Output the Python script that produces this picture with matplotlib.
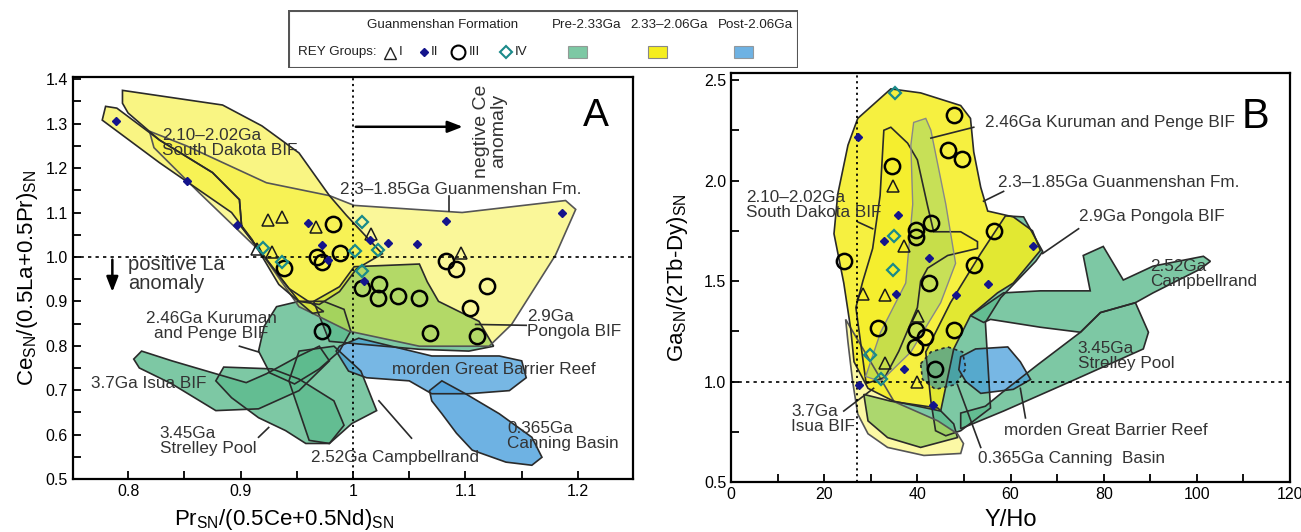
import matplotlib.pyplot as plt
from matplotlib.patches import Polygon, Rectangle
from matplotlib.ticker import MultipleLocator

plt.rcParams['font.family'] = ['Liberation Sans', 'DejaVu Sans']
plt.rcParams['mathtext.fontset'] = 'custom'
plt.rcParams['mathtext.rm'] = 'Liberation Sans'
plt.rcParams['mathtext.it'] = 'Liberation Sans:italic'

GREEN = '#5dbb8e'
YELLOW = '#f5ee1e'
BLUE = '#4a9fdc'
NAVY = '#14148c'
TEAL = '#1a8a8a'
EDGE = '#2a2a2a'
TXT = '#333333'

# -----------------------
# PANEL A  (Ce/Ce* vs Pr/Pr*)
# -----------------------

a_isua = [(0.805, 0.770), (0.812, 0.788), (0.839, 0.766), (0.878, 0.737), (0.905, 0.717),
          (0.923, 0.737), (0.952, 0.777), (0.970, 0.799), (0.979, 0.766), (0.952, 0.699),
          (0.916, 0.658), (0.878, 0.654), (0.839, 0.714), (0.810, 0.750)]
a_strelley = [(0.878, 0.721), (0.885, 0.752), (0.928, 0.748), (0.952, 0.725), (0.983, 0.676),
              (0.992, 0.621), (0.979, 0.580), (0.958, 0.580), (0.940, 0.609), (0.916, 0.638),
              (0.892, 0.683)]
a_campbellrand = [(0.952, 0.788), (0.983, 0.799), (1.007, 0.743), (1.021, 0.654), (0.999, 0.625),
                  (0.979, 0.580), (0.961, 0.587), (0.952, 0.654), (0.943, 0.721)]
a_kuruman = [(0.932, 0.888), (0.952, 0.900), (0.974, 0.900), (0.992, 0.882), (0.998, 0.833),
             (0.988, 0.788), (0.970, 0.748), (0.948, 0.714), (0.926, 0.739), (0.916, 0.788),
             (0.921, 0.844)]
a_pongola = [(0.965, 0.900), (0.988, 0.933), (1.001, 0.978), (1.059, 0.984), (1.066, 0.944),
             (1.076, 0.900), (1.112, 0.855), (1.125, 0.799), (1.103, 0.788), (1.059, 0.792),
             (1.005, 0.804), (0.979, 0.810)]
a_guanmenshan = [(0.819, 1.283), (0.852, 1.250), (0.923, 1.167), (0.979, 1.138), (1.001, 1.116),
                 (1.097, 1.100), (1.189, 1.127), (1.198, 1.107), (1.180, 1.004), (1.141, 0.848),
                 (1.121, 0.799), (1.059, 0.799), (0.996, 0.833), (0.952, 0.888), (0.918, 1.011),
                 (0.863, 1.145), (0.823, 1.246)]
a_sd_lower = [(0.777, 1.308), (0.780, 1.339), (0.790, 1.335), (0.828, 1.263), (0.875, 1.190),
              (0.899, 1.129), (0.901, 1.067), (0.943, 0.929), (0.974, 0.877), (0.964, 0.873),
              (0.934, 0.938), (0.910, 1.040), (0.892, 1.100), (0.828, 1.212)]
a_sd_upper = [(0.795, 1.375), (0.884, 1.342), (0.919, 1.295), (0.952, 1.234), (0.979, 1.138),
              (0.994, 1.094), (1.026, 1.007), (1.003, 0.973), (0.988, 0.922), (0.970, 0.893),
              (0.952, 0.900), (0.943, 0.929), (0.901, 1.067), (0.899, 1.129), (0.875, 1.190),
              (0.828, 1.263), (0.800, 1.324), (0.795, 1.346)]
a_gbr = [(0.985, 0.788), (0.988, 0.799), (1.005, 0.817), (1.070, 0.777), (1.130, 0.777),
         (1.150, 0.766), (1.154, 0.728), (1.139, 0.699), (1.103, 0.692), (1.070, 0.692),
         (1.050, 0.721), (1.012, 0.728), (0.996, 0.743)]
a_canning = [(1.068, 0.699), (1.079, 0.721), (1.100, 0.692), (1.130, 0.647), (1.159, 0.594),
             (1.168, 0.549), (1.159, 0.531), (1.136, 0.538), (1.106, 0.565), (1.092, 0.603),
             (1.079, 0.647), (1.070, 0.676)]

# Guanmenshan samples by REY group
a_g1_x = [0.924, 0.937, 0.967, 0.915, 0.928, 1.016, 1.096]
a_g1_y = [1.083, 1.089, 1.067, 1.018, 1.011, 1.051, 1.009]
a_g2_x = [0.789, 0.852, 0.897, 0.960, 0.972, 0.978, 1.015, 1.031, 1.057, 1.083, 1.010, 1.186]
a_g2_y = [1.306, 1.172, 1.071, 1.076, 1.027, 0.993, 1.038, 1.031, 1.029, 1.080, 0.946, 1.100]
a_g3_x = [0.939, 0.968, 0.972, 0.988, 0.982, 1.083, 1.092, 1.119, 1.008, 1.023, 1.022,
          1.040, 1.059, 1.104, 1.068, 1.110, 0.972]
a_g3_y = [0.975, 1.000, 0.989, 1.009, 1.074, 0.991, 0.973, 0.935, 0.929, 0.938, 0.908,
          0.911, 0.908, 0.886, 0.828, 0.821, 0.833]
a_g4_x = [0.920, 0.937, 1.008, 1.002, 1.022, 1.008]
a_g4_y = [1.020, 0.989, 1.078, 1.013, 1.016, 0.969]

# -----------------------
# PANEL B  (Ga/Ga* vs Y/Ho)
# -----------------------

b_isua = [(28.5, 0.936), (34.3, 0.902), (44.4, 0.868), (47.8, 0.789), (48.6, 0.721),
          (40.7, 0.672), (33.6, 0.721), (29.4, 0.804)]
b_pongola = [(58.9, 1.824), (62.8, 1.819), (66.9, 1.647), (65.4, 1.598), (57.9, 1.417),
             (54.6, 1.294), (55.7, 0.868), (49.3, 0.755), (46.1, 0.730), (43.9, 0.755),
             (42.9, 0.902), (41.8, 1.147), (47.1, 1.392), (53.6, 1.637)]
b_campbellrand = [(51.4, 1.328), (58.5, 1.441), (66.4, 1.451), (77.1, 1.451), (75.6, 1.627),
                  (79.9, 1.672), (84.2, 1.505), (90.6, 1.574), (101.4, 1.623), (102.9, 1.598),
                  (100.7, 1.559), (90.6, 1.441), (86.8, 1.392), (79.3, 1.343), (75.0, 1.245),
                  (66.4, 1.270), (55.7, 1.309), (54.2, 1.294)]
b_strelley = [(49.3, 0.765), (58.5, 0.853), (72.9, 1.000), (88.5, 1.162), (89.6, 1.245),
              (86.8, 1.392), (79.3, 1.343), (75.0, 1.245), (65.8, 1.083), (58.5, 0.951),
              (54.6, 0.877), (49.3, 0.843)]
b_sd_outer = [(24.6, 1.309), (25.1, 1.196), (26.1, 1.000), (27.2, 0.838), (29.4, 0.740),
              (33.6, 0.672), (41.4, 0.632), (49.3, 0.642), (49.9, 0.691), (48.6, 0.740),
              (44.4, 0.804), (35.0, 0.900)]
b_guanmenshan = [(27.2, 2.309), (34.3, 2.456), (40.7, 2.436), (49.3, 2.373), (51.4, 2.309),
                 (52.1, 2.142), (53.6, 1.966), (55.1, 1.848), (60.6, 1.819), (64.7, 1.750),
                 (66.4, 1.652), (60.6, 1.490), (57.2, 1.441), (51.4, 1.328), (47.8, 1.162),
                 (45.0, 0.853), (34.9, 0.902), (29.4, 0.966), (26.4, 1.098), (25.7, 1.260),
                 (24.2, 1.490), (22.1, 1.735), (22.9, 1.931), (25.1, 2.176)]
b_sd_inner = [(32.8, 2.250), (34.3, 2.265), (37.9, 2.186), (40.0, 2.103), (42.2, 1.873),
              (43.5, 1.745), (49.3, 1.745), (52.9, 1.696), (52.9, 1.662), (46.5, 1.627),
              (42.2, 1.564), (40.7, 1.500), (40.0, 1.368), (36.0, 1.150), (33.0, 1.020),
              (29.0, 0.990), (26.8, 1.368), (28.3, 1.500), (30.4, 1.662), (32.0, 1.926)]
b_kuruman = [(39.2, 2.289), (41.8, 2.309), (42.9, 2.250), (46.1, 1.882), (48.2, 1.588),
             (45.0, 1.392), (38.6, 1.147), (32.1, 1.000), (28.9, 1.025), (32.1, 1.245),
             (37.5, 1.490), (39.0, 1.882), (38.6, 2.176)]
b_canning = [(40.7, 1.088), (42.9, 1.147), (46.5, 1.172), (49.7, 1.147), (50.4, 1.064),
             (48.2, 0.985), (43.9, 0.961), (41.1, 1.010)]
b_gbr = [(49.3, 1.123), (52.5, 1.162), (59.4, 1.172), (62.1, 1.098), (64.3, 1.010),
         (60.6, 0.961), (53.6, 0.941), (50.4, 1.000), (48.9, 1.059)]

b_g1_x = [34.7, 37.1, 28.3, 33.0, 40.1, 33.0, 39.9]
b_g1_y = [1.975, 1.672, 1.436, 1.431, 1.324, 1.093, 1.000]
b_g2_x = [27.2, 35.8, 32.8, 42.4, 35.4, 48.2, 55.1, 64.9, 37.1, 27.4, 43.3]
b_g2_y = [2.216, 1.828, 1.701, 1.613, 1.436, 1.431, 1.485, 1.676, 1.064, 0.985, 0.882]
b_g3_x = [47.8, 46.5, 49.5, 34.5, 42.9, 39.6, 39.6, 56.4, 52.1, 42.4, 24.2, 31.5, 39.6,
          41.6, 39.4, 47.8, 43.7]
b_g3_y = [2.324, 2.152, 2.108, 2.074, 1.789, 1.755, 1.721, 1.750, 1.578, 1.490, 1.598,
          1.265, 1.255, 1.221, 1.172, 1.255, 1.064]
b_g4_x = [35.1, 34.9, 34.7, 29.8, 32.1]
b_g4_y = [2.436, 1.725, 1.554, 1.132, 1.010]


def region(ax, verts, color, alpha, ls='-', lw=1.2, ec=EDGE):
    ax.add_patch(Polygon(verts, closed=True, facecolor=color, alpha=alpha,
                         edgecolor='none', zorder=1))
    ax.add_patch(Polygon(verts, closed=True, fill=False, edgecolor=ec,
                         linewidth=lw, linestyle=ls, zorder=2))


def samples(ax, g1x, g1y, g2x, g2y, g3x, g3y, g4x, g4y):
    ax.plot(g3x, g3y, 'o', ms=11, mfc='none', mec='black', mew=1.8, ls='none', zorder=5)
    ax.plot(g1x, g1y, '^', ms=9, mfc='none', mec='#1a1a1a', mew=1.1, ls='none', zorder=5)
    ax.plot(g4x, g4y, 'D', ms=6.5, mfc='none', mec=TEAL, mew=1.6, ls='none', zorder=6)
    ax.plot(g2x, g2y, 'D', ms=4.5, mfc=NAVY, mec=NAVY, ls='none', zorder=6)


def style_axes(ax):
    for sp in ax.spines.values():
        sp.set_linewidth(1.6)
    ax.tick_params(which='both', direction='in', top=False, right=False,
                   labelsize=11.5, width=1.3)
    ax.tick_params(which='major', length=6)
    ax.tick_params(which='minor', length=6)


def sn_label(name, rest):
    return name + r'$_{\mathregular{SN}}$' + rest + r'$_{\mathregular{SN}}$'


fig = plt.figure(figsize=(13.01, 5.32), dpi=100)
axA = fig.add_axes([0.0561, 0.0996, 0.4305, 0.7556])
axB = fig.add_axes([0.5619, 0.0940, 0.4297, 0.7688])

lab = dict(fontsize=12.3, color=TXT, linespacing=1.0)

# ---- panel A ----
for verts in [a_isua, a_strelley, a_campbellrand, a_kuruman, a_pongola]:
    region(axA, verts, GREEN, 0.8)
region(axA, a_guanmenshan, YELLOW, 0.45, ec='#555555')
region(axA, a_sd_lower, YELLOW, 0.55)
region(axA, a_sd_upper, YELLOW, 0.55)
region(axA, a_gbr, BLUE, 0.75)
region(axA, a_canning, BLUE, 0.8)
samples(axA, a_g1_x, a_g1_y, a_g2_x, a_g2_y, a_g3_x, a_g3_y, a_g4_x, a_g4_y)

axA.axvline(1.0, color='black', ls=(0, (1.2, 2)), lw=1.3, zorder=3)
axA.axhline(1.0, color='black', ls=(0, (2, 2.5)), lw=1.2, zorder=3)
axA.set_xlim(0.751, 1.249)
axA.set_ylim(0.5, 1.405)
axA.xaxis.set_minor_locator(MultipleLocator(0.05))
axA.yaxis.set_major_locator(MultipleLocator(0.1))
axA.yaxis.set_minor_locator(MultipleLocator(0.05))
axA.set_xticks([0.8, 0.9, 1.0, 1.1, 1.2])
axA.set_xticklabels(['0.8', '0.9', '1', '1.1', '1.2'])
axA.set_xlabel(sn_label('Pr', '/(0.5Ce+0.5Nd)'), fontsize=16)
axA.xaxis.set_label_coords(0.377, -0.07)
axA.set_ylabel(sn_label('Ce', '/(0.5La+0.5Pr)'), fontsize=16, labelpad=4)
style_axes(axA)

axA.annotate('', xy=(1.100, 1.293), xytext=(1.0, 1.293),
             arrowprops=dict(arrowstyle='-|>,head_width=0.35,head_length=0.9', color='black', lw=1.8))
axA.annotate('', xy=(0.786, 0.915), xytext=(0.786, 1.0),
             arrowprops=dict(arrowstyle='-|>,head_width=0.35,head_length=0.9', color='black', lw=1.8))
axA.text(1.122, 1.283, 'negtive Ce\nanomaly', rotation=90, ha='center', va='center',
         fontsize=14, color=TXT, linespacing=1.0)
axA.text(0.800, 0.962, 'positive La\nanomaly', ha='left', va='center', fontsize=14.5,
         color=TXT, linespacing=1.0)
axA.text(1.204, 1.318, 'A', fontsize=28, ha='left', va='center')

axA.text(0.830, 1.256, '2.10\u20132.02Ga\nSouth Dakota BIF', ha='left', va='center', **lab)
axA.text(0.988, 1.152, '2.3\u20131.85Ga Guanmenshan Fm.', ha='left', va='center', **lab)
axA.plot([1.085, 1.085], [1.138, 1.103], color=EDGE, lw=1.2)
axA.text(0.874, 0.844, '2.46Ga Kuruman\nand Penge BIF', ha='center', va='center', **lab)
axA.plot([0.899, 0.916], [0.799, 0.786], color=EDGE, lw=1.2)
axA.text(0.767, 0.714, '3.7Ga Isua BIF', ha='left', va='center', **lab)
axA.text(0.828, 0.585, '3.45Ga\nStrelley Pool', ha='left', va='center', **lab)
axA.plot([0.916, 0.925], [0.594, 0.616], color=EDGE, lw=1.2)
axA.text(0.963, 0.549, '2.52Ga Campbellrand', ha='left', va='center', **lab)
axA.plot([1.023, 1.052], [0.676, 0.592], color=EDGE, lw=1.2)
axA.text(1.155, 0.850, '2.9Ga\nPongola BIF', ha='left', va='center', **lab)
axA.plot([1.109, 1.154], [0.848, 0.846], color=EDGE, lw=1.2)
axA.text(1.035, 0.746, 'morden Great Barrier Reef', ha='left', va='center', **lab)
axA.text(1.137, 0.596, '0.365Ga\nCanning Basin', ha='left', va='center', **lab)

# ---- panel B ----
for verts in [b_isua, b_pongola, b_campbellrand, b_strelley]:
    region(axB, verts, GREEN, 0.8)
region(axB, b_sd_outer, YELLOW, 0.4, ec='#555555')
region(axB, b_guanmenshan, YELLOW, 0.85)
region(axB, b_sd_inner, YELLOW, 0.5)
region(axB, b_kuruman, GREEN, 0.3, ec='#888888', lw=1.0)
region(axB, b_canning, '#2f8fa6', 0.65, ls=(0, (2, 2)))
region(axB, b_gbr, BLUE, 0.75)
samples(axB, b_g1_x, b_g1_y, b_g2_x, b_g2_y, b_g3_x, b_g3_y, b_g4_x, b_g4_y)

axB.axvline(27, color='black', ls=(0, (1.2, 2)), lw=1.3, zorder=3)
axB.axhline(1.0, color='black', ls=(0, (2, 2.5)), lw=1.2, zorder=3)
axB.set_xlim(0, 120)
axB.set_ylim(0.5, 2.535)
axB.xaxis.set_major_locator(MultipleLocator(20))
axB.xaxis.set_minor_locator(MultipleLocator(10))
axB.yaxis.set_major_locator(MultipleLocator(0.5))
axB.yaxis.set_minor_locator(MultipleLocator(0.25))
axB.set_xlabel('Y/Ho', fontsize=17, labelpad=5)
axB.set_ylabel(sn_label('Ga', '/(2Tb-Dy)'), fontsize=16, labelpad=10)
style_axes(axB)
axB.text(109.5, 2.314, 'B', fontsize=30, ha='left', va='center')

axB.text(54.6, 2.289, '2.46Ga Kuruman and Penge BIF', ha='left', va='center', **lab)
axB.plot([42.9, 52.1], [2.211, 2.265], color=EDGE, lw=1.2)
axB.text(57.4, 1.990, '2.3\u20131.85Ga Guanmenshan Fm.', ha='left', va='center', **lab)
axB.plot([54.2, 58.5], [1.897, 1.946], color=EDGE, lw=1.2)
axB.text(74.6, 1.819, '2.9Ga Pongola BIF', ha='left', va='center', **lab)
axB.plot([66.9, 74.6], [1.637, 1.760], color=EDGE, lw=1.2)
axB.text(90.0, 1.534, '2.52Ga\nCampbellrand', ha='left', va='center', **lab)
axB.text(74.4, 1.127, '3.45Ga\nStrelley Pool', ha='left', va='center', **lab)
axB.text(58.5, 0.755, 'morden Great Barrier Reef', ha='left', va='center', **lab)
axB.plot([62.1, 63.2], [0.966, 0.819], color=EDGE, lw=1.2)
axB.text(53.1, 0.618, '0.365Ga Canning  Basin', ha='left', va='center', **lab)
axB.plot([48.6, 53.6], [0.985, 0.672], color=EDGE, lw=1.2)
axB.text(3.2, 1.877, '2.10\u20132.02Ga\nSouth Dakota BIF', ha='left', va='center', **lab)
axB.plot([27.2, 30.4], [1.794, 1.760], color=EDGE, lw=1.2)
axB.text(12.9, 0.814, '3.7Ga\nIsua BIF', ha='left', va='center', **lab)
axB.plot([24.2, 30.6], [0.853, 0.966], color=EDGE, lw=1.2)

# ---- legend box ----
axL = fig.add_axes([288 / 1301, 1 - 68 / 532, 510 / 1301, 58 / 532])
axL.set_xlim(0, 510)
axL.set_ylim(58, 0)
axL.axis('off')
axL.add_patch(Rectangle((0.5, 0.5), 509, 57, fill=False, edgecolor='#555555', lw=1.5))
leg = dict(fontsize=9.6, color='#222222', va='center')
axL.text(79, 15, 'Guanmenshan Formation', ha='left', **leg)
axL.text(264, 15, 'Pre-2.33Ga', ha='left', **leg)
axL.text(342, 15, '2.33\u20132.06Ga', ha='left', **leg)
axL.text(430, 15, 'Post-2.06Ga', ha='left', **leg)
axL.text(10, 42, 'REY Groups:', ha='left', **leg)
axL.plot([102], [43], '^', ms=8, mfc='none', mec='#222222', mew=1.0)
axL.text(111, 42, 'I', ha='left', **leg)
axL.plot([136], [42], 'D', ms=4, mfc=NAVY, mec=NAVY)
axL.text(143, 42, 'II', ha='left', **leg)
axL.plot([170], [42], 'o', ms=10, mfc='none', mec='black', mew=1.5)
axL.text(181, 42, 'III', ha='left', **leg)
axL.plot([218], [42], 'D', ms=6, mfc='none', mec=TEAL, mew=1.5)
axL.text(227, 42, 'IV', ha='left', **leg)
for x0, c in [(280, GREEN), (360, YELLOW), (446, BLUE)]:
    axL.add_patch(Rectangle((x0, 36), 19, 12, facecolor=c, alpha=0.8 if c != YELLOW else 1.0,
                            edgecolor='#888888', lw=0.8))

fig.savefig('out.png', dpi=100)
